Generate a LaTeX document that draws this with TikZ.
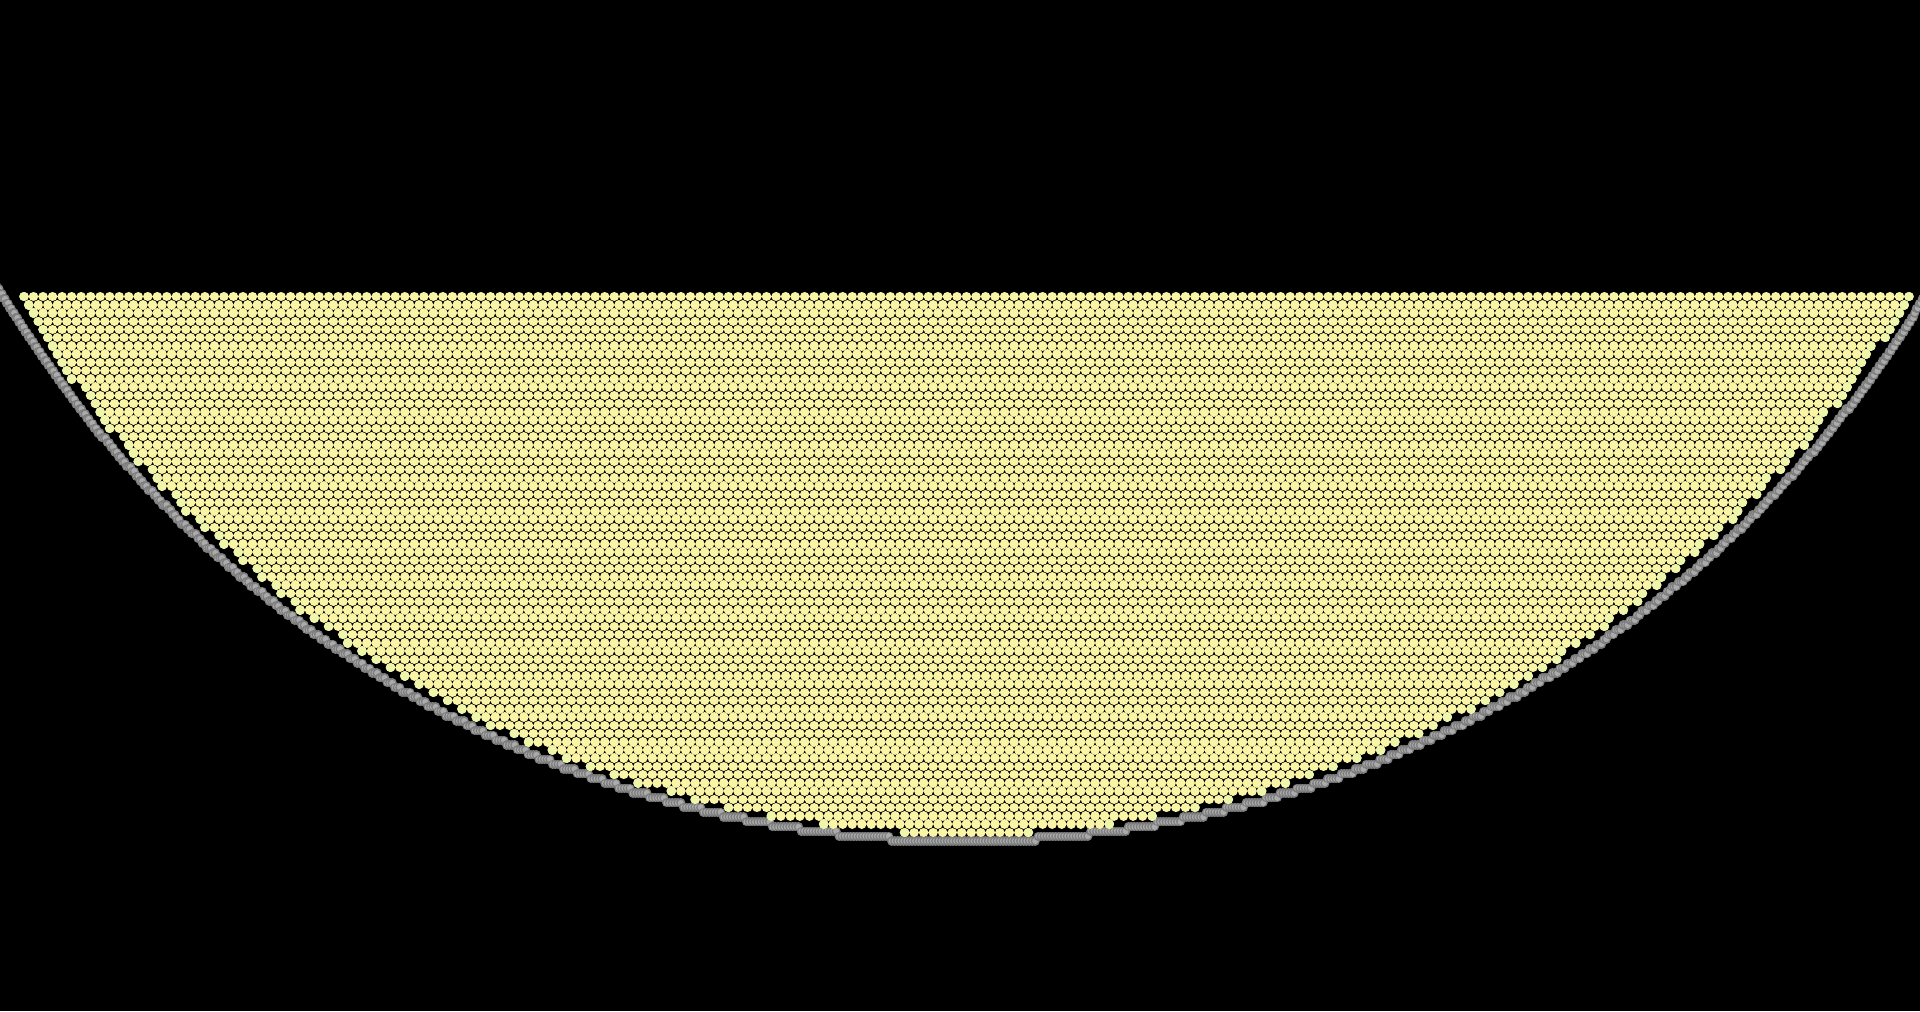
\documentclass[tikz,border=0pt]{standalone}
\usepackage{tikz}
\definecolor{sand}{HTML}{FAF4A6}
\definecolor{sandrim}{HTML}{EFF5AA}
\definecolor{wallrim}{HTML}{7E7E7E}
\definecolor{wallcore}{HTML}{ABABAB}

\begin{document}
\begin{tikzpicture}[x=0.1mm,y=-0.1mm,
    grain/.style={draw=sand,line width=0.95mm,line cap=round},
    rimgrain/.style={grain,draw=sandrim},
    wallgrain/.style={draw=wallrim,line width=0.91mm,line cap=round},
    wallglint/.style={draw=wallcore,line width=0.61mm,line cap=round}]
  \fill[black] (0,0) rectangle (1920,1011);
  \useasboundingbox (0,0) rectangle (1920,1011);
  \begin{scope}
    \clip (0,0) rectangle (1920,1011);
    % bowl wall, stepped
    \foreach \t in {-61,-60.85,...,61} {
      \pgfmathsetmacro\wx{964+1120*sin(\t)}
      \pgfmathsetmacro\wy{-279+1120*cos(\t)}
      \pgfmathsetmacro\wq{841-4.8*round((841-\wy)/4.8)}
      \draw[wallgrain] (\wx,\wq) -- ++(0.01,0);
      \draw[wallglint] (\wx,\wq) -- ++(0.01,0);
    }
    % packed grains, row by row
    \foreach \r in {0,...,65} {
      \pgfmathsetmacro\gy{296.5+8.245*\r}
      \pgfmathsetmacro\gx{24+4.76*mod(\r,2)}
      \pgfmathsetmacro\gd{(835-\gy)/100}
      \pgfmathsetmacro\glim{100*sqrt(22.4*\gd-\gd*\gd)-9}
      \pgfmathtruncatemacro\ia{ceil((964-\glim-\gx)/9.52)}
      \pgfmathtruncatemacro\ib{floor((964+\glim-\gx)/9.52)}
      \draw[grain] foreach \i in {\ia,...,\ib} {({\gx+9.52*\i},\gy) -- ++(0.01,0)};
      \draw[rimgrain] ({\gx+9.52*\ia},\gy) -- ++(0.01,0)
                      ({\gx+9.52*\ib},\gy) -- ++(0.01,0);
    }
  \end{scope}
\end{tikzpicture}
\end{document}
